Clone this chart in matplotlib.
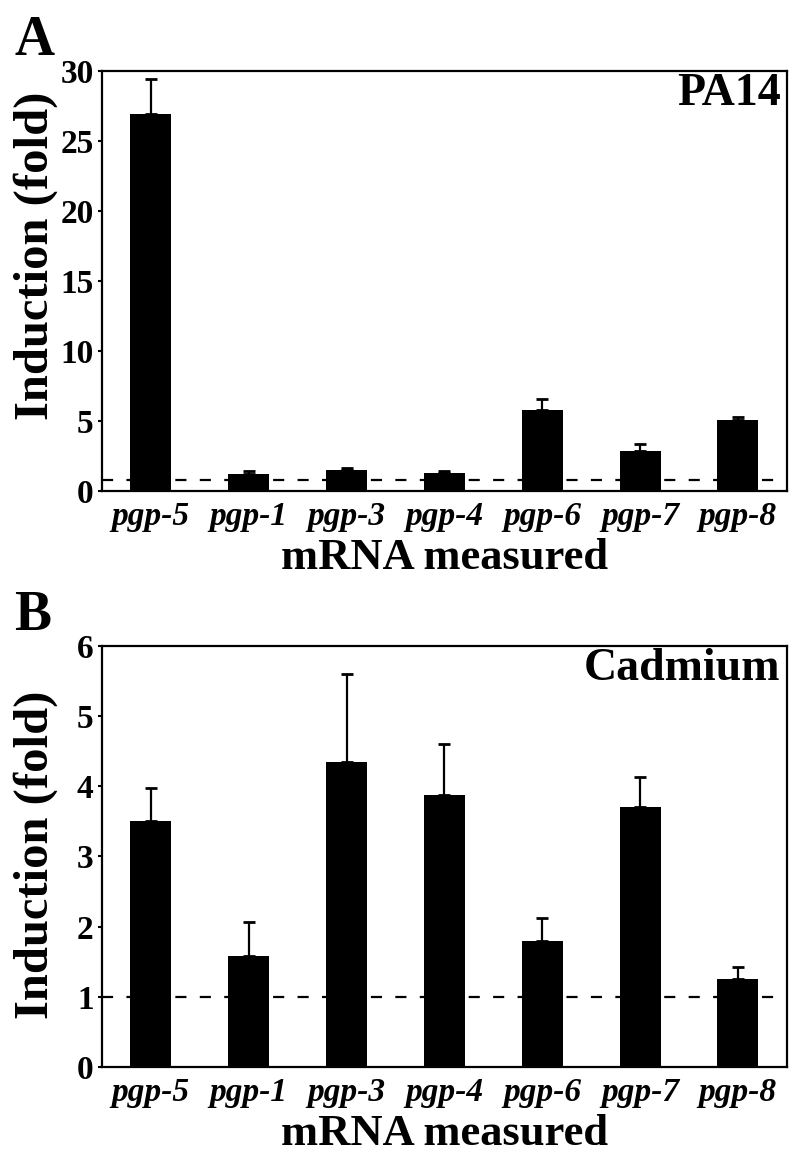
import numpy as np
import matplotlib
matplotlib.use('Agg')
import matplotlib.pyplot as plt

# data
genes = ['pgp-5', 'pgp-1', 'pgp-3', 'pgp-4', 'pgp-6', 'pgp-7', 'pgp-8']
pa14_mean = [26.9, 1.2, 1.48, 1.31, 5.81, 2.86, 5.09]
pa14_top = [29.4, 1.43, 1.62, 1.43, 6.57, 3.33, 5.31]
cd_mean = [3.50, 1.58, 4.35, 3.87, 1.80, 3.70, 1.25]
cd_top = [3.98, 2.06, 5.60, 4.60, 2.13, 4.13, 1.42]
pa14_base = 0.8
cd_base = 1.0

plt.rcParams['font.family'] = ['Liberation Serif', 'DejaVu Serif']
plt.rcParams['font.weight'] = 'bold'

fig = plt.figure(figsize=(8, 11.58), dpi=100)
axA = fig.add_axes([0.1275, 0.576, 0.856, 0.3627])
axB = fig.add_axes([0.1275, 0.0786, 0.856, 0.3636])


def panel(ax, mean, top, base, ymax, step, tag, letter, ylab_y):
    x = np.arange(len(genes))
    mean = np.array(mean)
    err = np.array(top) - mean
    ax.bar(x, mean, width=0.42, color='black', zorder=2)
    ax.errorbar(x, mean, yerr=[np.zeros_like(err), err], fmt='none',
                ecolor='black', elinewidth=1.6, capsize=4, capthick=2, zorder=3)
    ax.axhline(base, color='black', lw=1.6, ls=(0, (5, 6)), zorder=4)
    ax.set_xlim(-0.5, len(genes) - 0.5)
    ax.set_ylim(0, ymax)
    ax.set_yticks(np.arange(0, ymax + 0.01, step))
    ax.set_xticks(x)
    ax.set_xticklabels(genes, fontsize=24, style='italic', fontweight='bold')
    ax.tick_params(axis='x', length=0, pad=7)
    ax.tick_params(axis='y', length=3, width=1.5, labelsize=24, pad=3)
    for lab in ax.get_yticklabels():
        lab.set_fontweight('bold')
    for s in ax.spines.values():
        s.set_linewidth(1.6)
    ax.set_ylabel('Induction (fold)', fontsize=35, fontweight='bold')
    ax.yaxis.set_label_coords(-0.064, ylab_y)
    ax.set_xlabel('mRNA measured', fontsize=32, fontweight='bold')
    ax.xaxis.set_label_coords(0.5, -0.112)
    ax.text(0.991, 0.995, tag, transform=ax.transAxes, ha='right', va='top',
            fontsize=33, fontweight='bold')
    ax.text(-0.128, 1.01, letter, transform=ax.transAxes, ha='left', va='bottom',
            fontsize=40, fontweight='bold')


panel(axA, pa14_mean, pa14_top, pa14_base, 30, 5, 'PA14', 'A', 0.56)
panel(axB, cd_mean, cd_top, cd_base, 6, 1, 'Cadmium', 'B', 0.504)

fig.savefig('out.png', dpi=100)
